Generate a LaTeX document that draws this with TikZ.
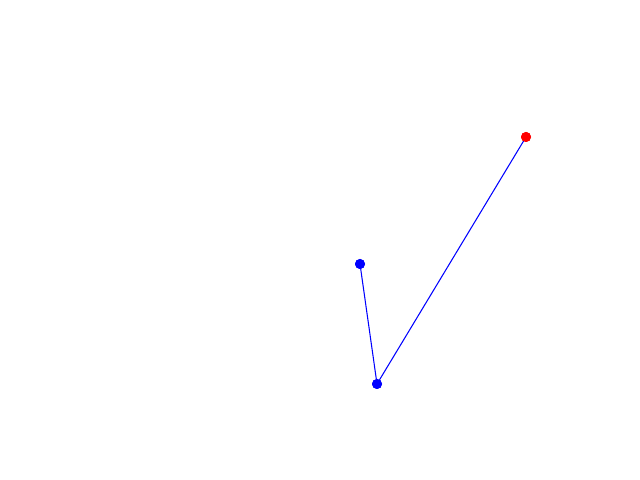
\documentclass[tikz,border=0pt]{standalone}
\begin{document}
\begin{tikzpicture}[x=0.01cm,y=-0.01cm,
  dotb/.style={circle,fill=blue,inner sep=0pt,minimum size=0.1cm},
  dotr/.style={circle,fill=red,inner sep=0pt,minimum size=0.1cm},
  edge/.style={blue,line width=0.3pt}]
\useasboundingbox (0,0) rectangle (640,480);
\node[dotb] (a) at (360,264) {};
\node[dotb] (b) at (377,384) {};
\node[dotr] (c) at (526,137) {};
\draw[edge] (a.center) -- (b.center);
\draw[edge] (b.center) -- (c.center);
\node[dotb] at (a.center) {};
\node[dotb] at (b.center) {};
\node[dotr] at (c.center) {};
\end{tikzpicture}
\end{document}
